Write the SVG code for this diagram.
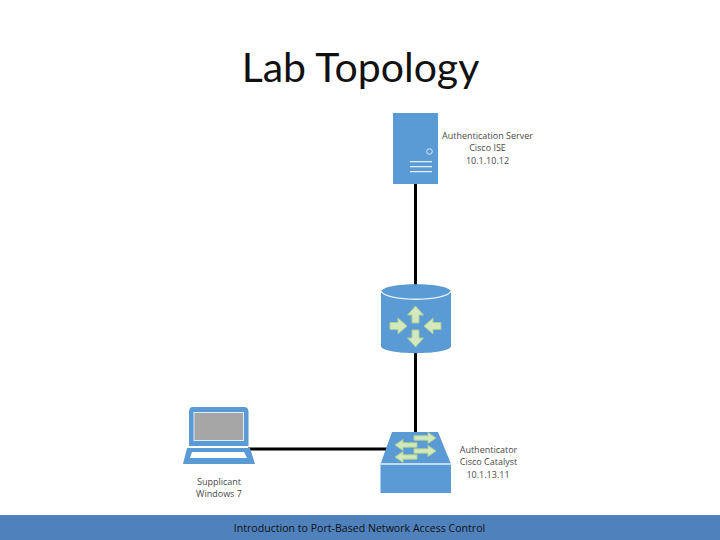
<svg xmlns="http://www.w3.org/2000/svg" width="720" height="540" viewBox="0 0 720 540">
<style>
.t{font-family:"Open Sans","Liberation Sans",sans-serif;font-size:9px;fill:#4a4a4a;text-anchor:middle}
.b{fill:#5b9bd5}
.w{fill:none;stroke:#e4f0f8;stroke-width:1.3}
.a{fill:#d4e8bf;stroke:#a9d08e;stroke-width:1}
.c{fill:none;stroke:#000;stroke-width:3}
</style>
<defs>
<path id="arr" class="a" d="M0-3.500H8V-8L17 0 8 8V3.500H0Z"/>
<path id="sw" class="a" d="M0-2.200H14V-5.500L22 0 14 5.500V2.200H0Z"/>
</defs>
<rect width="720" height="540" fill="#fff"/>
<rect x="0" y="515" width="720" height="25" fill="#4f81bd"/>
<text x="360.500" y="82" font-family="Lato,'Open Sans',sans-serif" font-size="41" fill="#111" text-anchor="middle">Lab Topology</text>
<text x="359.500" y="532" font-family="'Open Sans','Liberation Sans',sans-serif" font-size="10.600" fill="#111" text-anchor="middle">Introduction to Port-Based Network Access Control</text>
<g id="connectors">
<path class="c" d="M415.500 183V434M248 449H388"/>
</g>
<g id="server">
<rect class="b" x="393" y="113" width="45" height="71"/>
<circle cx="429.500" cy="151.500" r="2.800" fill="none" stroke="#dcecf7" stroke-width="1"/>
<path d="M410 161.700H432M410 166.700H432M410 171.700H432" class="w"/>
<text class="t" x="487.500" y="139">Authentication Server</text>
<text class="t" x="487.500" y="151">Cisco ISE</text>
<text class="t" x="487.500" y="164">10.1.10.12</text>
</g>
<g id="router">
<path class="b" d="M381 292C381 281.500 451 281.500 451 292V346C451 355.500 381 355.500 381 346Z"/>
<path class="w" d="M381 291C385 302 447 302 451 291"/>
<use href="#arr" transform="translate(415.500 323) rotate(-90)"/>
<use href="#arr" transform="translate(415.500 330) rotate(90)"/>
<use href="#arr" transform="translate(390 326)"/>
<use href="#arr" transform="translate(441 326) rotate(180)"/>
</g>
<g id="switch">
<path class="b" d="M392 432H438L451 464V493H380.500V464Z"/>
<path class="w" d="M381 464H451"/>
<use href="#sw" transform="translate(414 438)"/>
<use href="#sw" transform="translate(417 445) rotate(180)"/>
<use href="#sw" transform="translate(414 451)"/>
<use href="#sw" transform="translate(417 457) rotate(180)"/>
<text class="t" x="488.500" y="453">Authenticator</text>
<text class="t" x="488.500" y="465">Cisco Catalyst</text>
<text class="t" x="488" y="478">10.1.13.11</text>
</g>
<g id="laptop">
<path class="b" d="M193 407H244Q248.500 407 248.500 412V446H189V412Q189 407 193 407Z"/>
<rect x="194" y="412.500" width="49.500" height="28" fill="#a6a6a6" stroke="#dcecf7" stroke-width="1"/>
<path class="b" d="M187 448H250L255 464H183Z"/>
<path d="M192 452H244L247 458H190Z" fill="#fff"/>
<text class="t" x="219" y="485">Supplicant</text>
<text class="t" x="219" y="497">Windows 7</text>
</g>
</svg>
